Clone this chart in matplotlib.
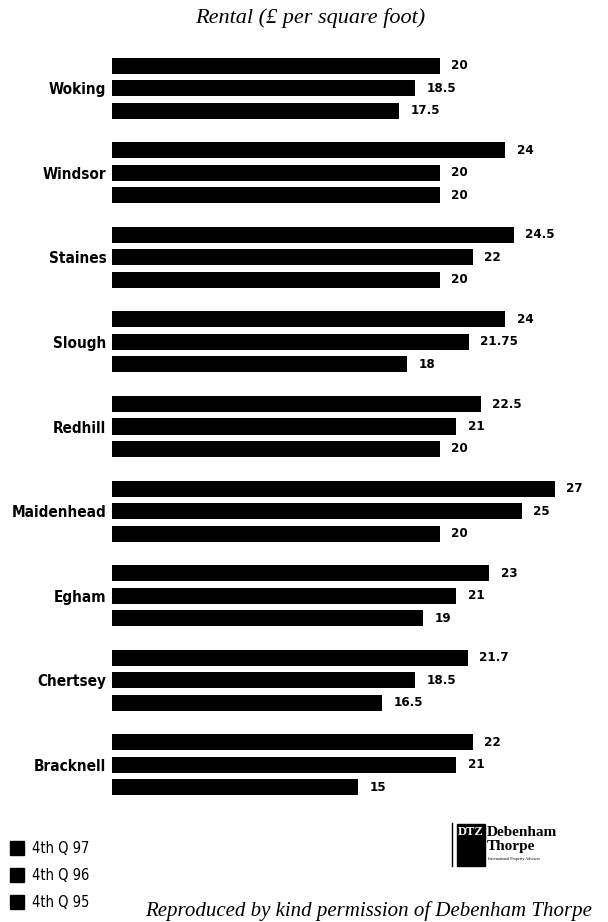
import numpy as np
import matplotlib.pyplot as plt
from matplotlib.patches import Rectangle

towns = ['Woking', 'Windsor', 'Staines', 'Slough', 'Redhill',
         'Maidenhead', 'Egham', 'Chertsey', 'Bracknell']
q97 = [20, 24, 24.5, 24, 22.5, 27, 23, 21.7, 22]
q96 = [18.5, 20, 22, 21.75, 21, 25, 21, 18.5, 21]
q95 = [17.5, 20, 20, 18, 20, 20, 19, 16.5, 15]
series_labels = ['4th Q 97', '4th Q 96', '4th Q 95']

def fmt(v):
    return ('%g' % v)

narrow = ['DejaVu Sans']
serif = ['Liberation Serif', 'DejaVu Serif']

fig = plt.figure(figsize=(6.08, 9.22), dpi=100)
ax = fig.add_axes([112/608, 1-807/922, 459/608, 761/922])

y = np.arange(len(towns))
off = 0.266
h = 0.19
for vals, d in zip([q97, q96, q95], [-off, 0, off]):
    ax.barh(y + d, vals, height=h, color='black')
    for yi, v in zip(y, vals):
        ax.text(v + 0.7, yi + d, fmt(v), va='center', ha='left',
                fontsize=9.5, fontweight='bold', family=narrow,
                fontstretch='condensed')

ax.set_xlim(0, 28)
ax.set_ylim(len(towns) - 0.5, -0.5)
ax.set_yticks(y)
ax.set_yticklabels(towns, fontsize=11, fontweight='bold', family=narrow,
                   fontstretch='condensed')
ax.tick_params(axis='y', length=0, pad=4)
ax.set_xticks([])
for s in ax.spines.values():
    s.set_visible(False)

fig.text(310/608, 1-18/922, 'Rental (£ per square foot)', ha='center', va='center',
         fontsize=16, style='italic', family=serif)

# legend
for i, lab in enumerate(series_labels):
    yc = 1 - (848 + i*27)/922
    fig.patches.append(Rectangle((10/608, yc - 7/922), 14/608, 14/922,
                                 transform=fig.transFigure, color='black'))
    fig.text(32/608, yc, lab, va='center', ha='left', fontsize=10.5,
             family=narrow, fontstretch='condensed')

# logo
fig.lines.append(plt.Line2D([452/608, 452/608], [1-823/922, 1-866/922],
                            transform=fig.transFigure, color='black', lw=1))
fig.patches.append(Rectangle((457/608, 1-866/922), 28/608, 42/922,
                             transform=fig.transFigure, color='black'))
fig.text(458/608, 1-832/922, 'DTZ', color='white', fontsize=9, fontweight='bold',
         family=serif, va='center', ha='left')
fig.text(487/608, 1-832/922, 'Debenham', fontsize=11, fontweight='bold',
         family=serif, va='center', ha='left')
fig.text(487/608, 1-846/922, 'Thorpe', fontsize=11, fontweight='bold',
         family=serif, va='center', ha='left')
fig.text(488/608, 1-859/922, 'International Property Advisers', fontsize=3,
         family=serif, va='center', ha='left')

fig.text(145/608, 1-911/922, 'Reproduced by kind permission of Debenham Thorpe',
         fontsize=15, style='italic', family=serif, va='center', ha='left')

fig.savefig('out.png', dpi=100)
